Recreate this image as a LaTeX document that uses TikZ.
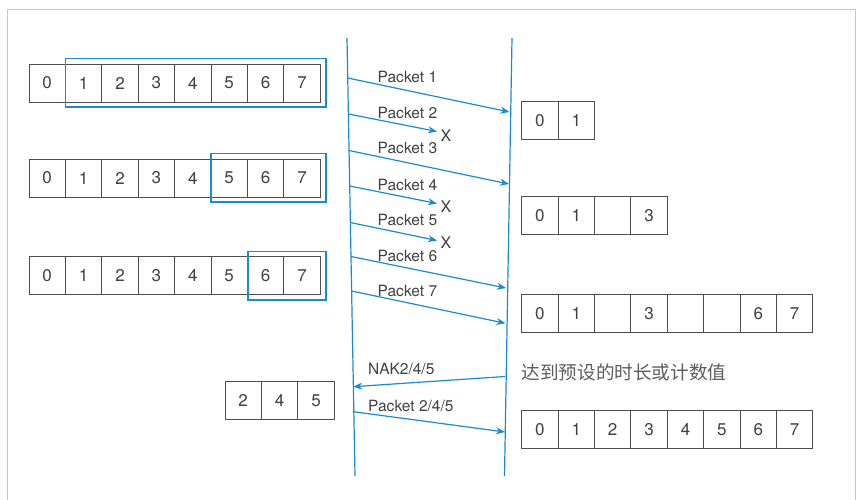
\documentclass[tikz,border=0pt]{standalone}
\usepackage{fontspec}
\setmainfont{TeX Gyre Heros}
\newfontfamily\cjk{Noto Sans CJK SC}
\usetikzlibrary{arrows.meta}
\definecolor{linkblue}{HTML}{1A8AD4}
\definecolor{cellgray}{HTML}{4D4D4D}
\definecolor{txtgray}{HTML}{404040}
\definecolor{framegray}{HTML}{C8C8C8}

\begin{document}
\begin{tikzpicture}[x=1pt,y=-1pt,
  cell/.style={draw=cellgray, line width=0.9pt, minimum width=36.4pt,
    minimum height=38pt, inner sep=0pt, outer sep=0pt, anchor=north west,
    font=\fontsize{17}{17}\selectfont, text=txtgray},
  window/.style={draw=linkblue, line width=1.6pt},
  timeline/.style={draw=linkblue, line width=1.2pt},
  msg/.style={draw=linkblue, line width=1.2pt, -{Stealth[length=9pt,width=7pt]}},
  lbl/.style={font=\fontsize{15.5}{15.5}\selectfont, text=txtgray, anchor=west, inner sep=0pt},
  lost/.style={font=\fontsize{16}{16}\selectfont, text=txtgray, inner sep=0pt}]

\useasboundingbox (0,0) rectangle (857,500);
% outer frame, open at the bottom
\draw[framegray, line width=0.8pt] (7.5,500) -- (7.5,9) -- (855.5,9) -- (855.5,500);

% sender windows
\foreach \v [count=\i from 0] in {0,...,7}
  \node[cell] (sa\i) at ({29+36.4*\i},64) {\v};
\foreach \v [count=\i from 0] in {0,...,7}
  \node[cell] (sb\i) at ({29+36.4*\i},159) {\v};
\foreach \v [count=\i from 0] in {0,...,7}
  \node[cell] (sc\i) at ({29+36.4*\i},256.5) {\v};
\draw[window] (65.5,58.5) rectangle (325.7,107);
\draw[window] (210.7,153.5) rectangle (325.7,201.7);
\draw[window] (247.7,251.3) rectangle (325.7,299.7);

% retransmission buffer
\foreach \v [count=\i from 0] in {2,4,5}
  \node[cell] (rt\i) at ({225+36.4*\i},381.7) {\v};

% receiver buffers
\foreach \v [count=\i from 0] in {0,1}
  \node[cell] (ra\i) at ({521.7+36.4*\i},101.7) {\v};
\foreach \v [count=\i from 0] in {0,1,{},3}
  \node[cell] (rb\i) at ({521.7+36.4*\i},196.7) {\v};
\foreach \v [count=\i from 0] in {0,1,{},3,{},{},6,7}
  \node[cell] (rc\i) at ({521.7+36.4*\i},294.3) {\v};
\foreach \v [count=\i from 0] in {0,...,7}
  \node[cell] (rd\i) at ({521.7+36.4*\i},410.7) {\v};

% time lines
\coordinate (lt) at (347,38);
\coordinate (lb) at (355,476);
\coordinate (rt) at (512,38);
\coordinate (rb) at (504.5,476);
\draw[timeline] (lt) -- (lb);
\draw[timeline] (rt) -- (rb);

% message end points
\coordinate (p1s) at (347.7,78);   \coordinate (p1e) at (509.5,112);
\coordinate (p2s) at (348.4,114);  \coordinate (p2e) at (437,131.5);
\coordinate (p3s) at (349,150.5);  \coordinate (p3e) at (509,184);
\coordinate (p4s) at (349.6,186);  \coordinate (p4e) at (437,203.5);
\coordinate (p5s) at (350.3,222.5);\coordinate (p5e) at (437,240.5);
\coordinate (p6s) at (350.9,256.5);\coordinate (p6e) at (506,288);
\coordinate (p7s) at (351.5,291);  \coordinate (p7e) at (505.5,323.3);
\coordinate (nks) at (505,376.5);  \coordinate (nke) at (353.2,386.7);
\coordinate (rrs) at (353.5,411.7);\coordinate (rre) at (505,432);

\draw[msg] (p1s) -- (p1e);
\draw[msg] (p2s) -- (p2e);
\draw[msg] (p3s) -- (p3e);
\draw[msg] (p4s) -- (p4e);
\draw[msg] (p5s) -- (p5e);
\draw[msg] (p6s) -- (p6e);
\draw[msg] (p7s) -- (p7e);
\draw[msg] (nks) -- (nke);
\draw[msg] (rrs) -- (rre);

% lost packets
\node[lost] (x2) at (446,136) {X};
\node[lost] (x4) at (446,207) {X};
\node[lost] (x5) at (446,243) {X};

% message labels
\node[lbl] (l1) at (377.5,77) {Packet 1};
\node[lbl] (l2) at (377.5,113) {Packet 2};
\node[lbl] (l3) at (377.5,148) {Packet 3};
\node[lbl] (l4) at (377.5,185) {Packet 4};
\node[lbl] (l5) at (377.5,220) {Packet 5};
\node[lbl] (l6) at (377.5,256) {Packet 6};
\node[lbl] (l7) at (377.5,291) {Packet 7};
\node[lbl] (ln) at (368,369) {NAK2/4/5};
\node[lbl] (lr) at (368,406) {Packet 2/4/5};

\node[anchor=west, inner sep=0pt, text=txtgray!85, font=\cjk\fontsize{18.6}{18.6}\selectfont]
  (timeout) at (521.5,372.7) {达到预设的时长或计数值};
\end{tikzpicture}
\end{document}
